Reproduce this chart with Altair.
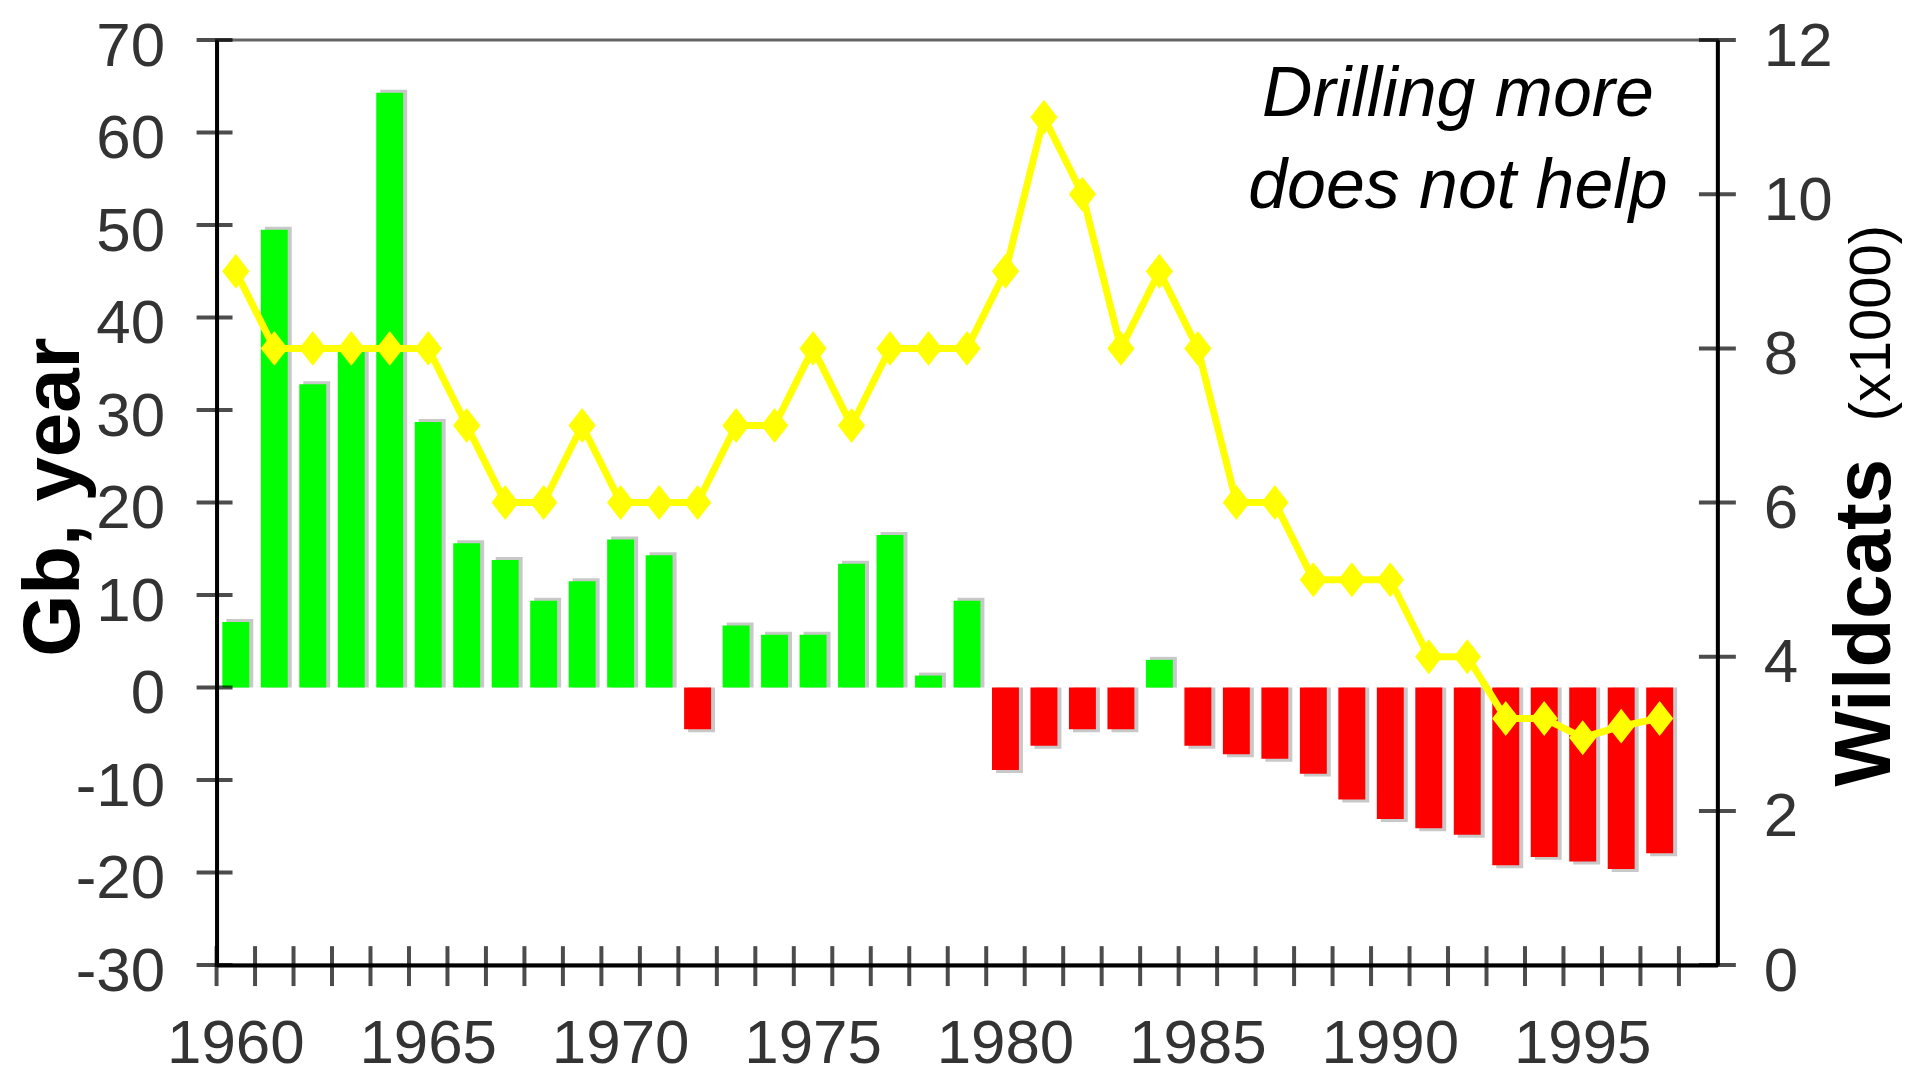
import altair as alt
import pandas as pd

# ---------------- data ----------------
years = list(range(1960, 1998))
gb = [7.1, 49.5, 32.8, 36.4, 64.3, 28.7, 15.6, 13.8, 9.4, 11.5, 16.0, 14.3,
      -4.5, 6.7, 5.7, 5.7, 13.4, 16.5, 1.3, 9.4,
      -8.9, -6.3, -4.5, -4.5, 3.0, -6.3, -7.2, -7.7, -9.3, -12.1,
      -14.2, -15.2, -15.9, -19.2, -18.3, -18.8, -19.6, -17.9]
wildcats = [9, 8, 8, 8, 8, 8, 7, 6, 6, 7, 6, 6, 6, 7, 7, 8, 7, 8, 8, 8,
            9, 11, 10, 8, 9, 8, 6, 6, 5, 5, 5, 4, 4, 3.2, 3.2, 2.95, 3.1, 3.2]
x_domain = years + [1998]
x_label_years = [1960, 1965, 1970, 1975, 1980, 1985, 1990, 1995]
gb_ticks = [70, 60, 50, 40, 30, 20, 10, 0, -10, -20, -30]
wc_ticks = [0, 2, 4, 6, 8, 10, 12]
note_lines = ["Drilling more", "does not help"]
left_title = ["Gb, year"]
right_title = ["Wildcats"]
right_unit = ["(x1000)"]

FONT = "Liberation Sans"
LBL = "#333333"
W, H = 1504, 927

df = pd.DataFrame({"year": years, "gb": gb, "wildcats": wildcats})

x_scale = alt.Scale(domain=x_domain, paddingInner=0, paddingOuter=0)
gb_scale = alt.Scale(domain=[-30, 70], nice=False, zero=False)
wc_scale = alt.Scale(domain=[0, 12], nice=False, zero=False)

x_axis = alt.Axis(values=x_label_years, title=None, labelAngle=0, labelFont=FONT,
                  labelFontSize=62, labelColor=LBL, labelPadding=98,
                  labelBaseline="alphabetic", ticks=False, domainColor="black",
                  domainWidth=4, labelOverlap=False, grid=False)
gb_axis = alt.Axis(values=gb_ticks, title=None, orient="left", labelFont=FONT,
                   labelFontSize=62, labelColor=LBL, labelPadding=52, ticks=False,
                   domainColor="black", domainWidth=4, grid=False, labelOffset=6,
                   labelFlush=False, labelOverlap=False,
                   labelExpr="datum.value < 0 ? '-' + abs(datum.value) : '' + datum.value")
wc_axis = alt.Axis(values=wc_ticks, title=None, orient="right", labelFont=FONT,
                   labelFontSize=62, labelColor=LBL, labelPadding=46, ticks=False,
                   domainColor="black", domainWidth=4, grid=False, labelOffset=6,
                   labelFlush=False, labelOverlap=False)

X = alt.X("year:O", scale=x_scale, axis=x_axis, title=None)
YG = alt.Y("gb:Q", scale=gb_scale, axis=gb_axis, title=None)
YW = alt.Y("wildcats:Q", scale=wc_scale, axis=wc_axis, title=None)
base = alt.Chart(df)

BAR_W = alt.RelativeBandSize(0.7)

shadow_pos = base.transform_filter("datum.gb > 0").mark_bar(
    color="#c8c8c8", width=BAR_W, xOffset=4, yOffset=-3
).encode(x=X, y=YG, y2=alt.datum(0))

shadow_neg = base.transform_filter("datum.gb < 0").mark_bar(
    color="#c8c8c8", width=BAR_W, xOffset=4, yOffset=3
).encode(x=X, y=YG, y2=alt.datum(0))

bars = base.mark_bar(width=BAR_W).encode(
    x=X, y=YG, y2=alt.datum(0),
    color=alt.condition("datum.gb > 0", alt.value("#00ff00"), alt.value("#ff0000")),
)

left_ticks = alt.Chart(pd.DataFrame({"gb": gb_ticks})).mark_tick(
    orient="horizontal", color="black", thickness=4, size=36, xOffset=-2
).encode(y=YG, x=alt.value(0))

x_ticks = alt.Chart(pd.DataFrame({"year": x_domain})).mark_tick(
    orient="vertical", color="black", thickness=4, size=40, yOffset=1
).encode(x=alt.X("year:O", scale=x_scale, axis=x_axis, title=None, bandPosition=0),
         y=alt.value(H))

left_group = alt.layer(shadow_pos, shadow_neg, bars, left_ticks, x_ticks)

line = base.mark_line(color="#ffff00", strokeWidth=7).encode(x=X, y=YW)

points = base.mark_point(
    shape="M0,-1L0.78,0L0,1L-0.78,0Z", filled=True, size=1225,
    color="#ffff00", opacity=1
).encode(x=X, y=YW)

right_ticks = alt.Chart(pd.DataFrame({"wildcats": wc_ticks})).mark_tick(
    orient="horizontal", color="black", thickness=4, size=37
).encode(y=YW, x=alt.value(W))

one = pd.DataFrame({"k": [0]})
note = alt.Chart(one).mark_text(
    text=note_lines, font=FONT, fontSize=70, fontStyle="italic", color="black",
    align="center", baseline="alphabetic", lineHeight=92
).encode(x=alt.value(1244), y=alt.value(76))

ltitle = alt.Chart(one).mark_text(
    text=left_title[0], font=FONT, fontSize=80, fontWeight="bold", color="black",
    angle=270, align="center", baseline="alphabetic"
).encode(x=alt.value(-138), y=alt.value(458))

rtitle = alt.Chart(one).mark_text(
    text=right_title[0], font=FONT, fontSize=80, fontWeight="bold", color="black",
    angle=270, align="left", baseline="alphabetic"
).encode(x=alt.value(1677), y=alt.value(748))

runit = alt.Chart(one).mark_text(
    text=right_unit[0], font=FONT, fontSize=58, color="black",
    angle=270, align="left", baseline="alphabetic"
).encode(x=alt.value(1677), y=alt.value(382))

right_group = alt.layer(line, points, right_ticks, note, ltitle, rtitle, runit)

chart = alt.layer(left_group, right_group).resolve_scale(y="independent").properties(
    width=W, height=H,
    autosize=alt.AutoSizeParams(type="none"),
    padding={"left": 209, "top": 31, "right": 190, "bottom": 112},
    background="white",
).configure_view(stroke="#666666", strokeWidth=3)

chart.save("out.html", embed_options={"renderer": "svg", "actions": False})
